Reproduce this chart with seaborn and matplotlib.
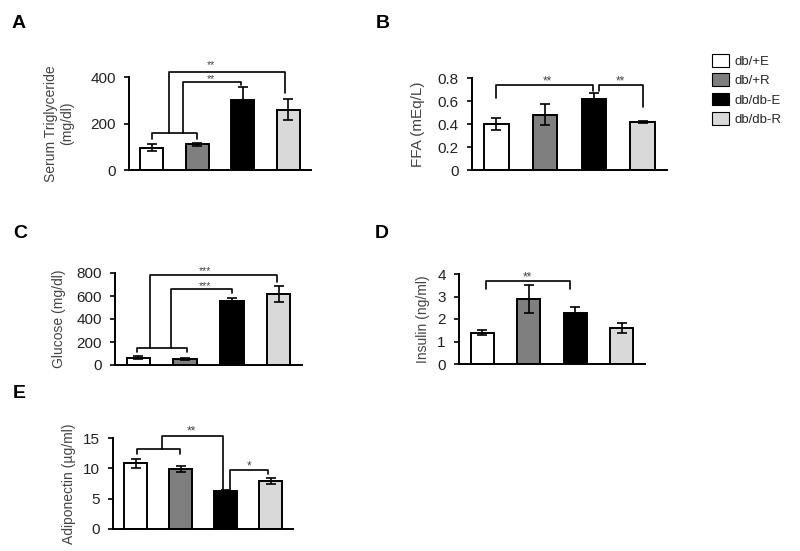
import matplotlib
matplotlib.use("Agg")
import matplotlib.pyplot as plt
import seaborn as sns
import pandas as pd
from matplotlib.patches import Patch

sns.set_theme(style="ticks")
plt.rcParams['font.family'] = ['Liberation Sans', 'DejaVu Sans']

groups = ["db/+E", "db/+R", "db/db-E", "db/db-R"]
colors = ["#ffffff", "#7f7f7f", "#000000", "#d9d9d9"]

tg_mean = [95, 110, 300, 260]
tg_err = [15, 6, 55, 45]
ffa_mean = [0.40, 0.48, 0.62, 0.42]
ffa_err = [0.05, 0.09, 0.05, 0.01]
glu_mean = [65, 55, 560, 620]
glu_err = [10, 8, 25, 70]
ins_mean = [1.40, 2.90, 2.25, 1.60]
ins_err = [0.12, 0.62, 0.30, 0.22]
adi_mean = [10.8, 9.9, 6.3, 7.9]
adi_err = [0.7, 0.5, 0.15, 0.5]

fig = plt.figure(figsize=(8, 5.51), dpi=100)
W, H = 800, 551

def add_ax(l, r, b, t):
    return fig.add_axes([l / W, 1 - b / H, (r - l) / W, (b - t) / H])

def draw(ax, mean, err, ylim, yticks, yticklabels, ylabel, lab_size=10):
    df = pd.DataFrame({"group": groups, "value": mean})
    sns.barplot(data=df, x="group", y="value", hue="group", palette=colors,
                order=groups, hue_order=groups, width=0.5, edgecolor="black",
                linewidth=1.4, errorbar=None, legend=False, ax=ax, dodge=False)
    ax.errorbar(range(len(groups)), mean, yerr=err, fmt="none", ecolor="black",
                elinewidth=1.2, capsize=3.5, capthick=1.2, zorder=5)
    ax.set_ylim(*ylim)
    ax.set_xlim(-0.5, 3.5)
    ax.set_yticks(yticks)
    ax.set_yticklabels(yticklabels, fontsize=11, color="#222222")
    ax.set_xticks([])
    ax.set_xlabel("")
    ax.set_ylabel(ylabel, fontsize=lab_size, color="#444444")
    for s in ["top", "right"]:
        ax.spines[s].set_visible(False)
    for s in ["left", "bottom"]:
        ax.spines[s].set_linewidth(1.4)
        ax.spines[s].set_color("black")
    ax.tick_params(axis="y", length=3.5, width=1.2, pad=6, color="black")
    ax.set_facecolor("white")

def line(ax, xs, ys):
    ax.plot(xs, ys, color="black", lw=1.2, clip_on=False, zorder=6)

def star(ax, x, y, s, size=8.5):
    ax.text(x, y, s, ha="center", va="center", fontsize=size, color="#444444")

# A
axA = add_ax(129, 311, 170, 77)
draw(axA, tg_mean, tg_err, (0, 400), [0, 200, 400], ["0", "200", "400"],
     "Serum Triglyceride\n(mg/dl)")
line(axA, [0, 0, 1, 1], [135, 160, 160, 135])
line(axA, [0.37, 0.37, 2.92, 2.92], [160, 421, 421, 331])
line(axA, [0.68, 0.68, 1.97, 1.97], [160, 378, 378, 366])
star(axA, 1.3, 450, "**", 7.5)
star(axA, 1.3, 389, "**", 7.5)
axA.yaxis.set_label_coords(-0.30, 0.5)

# B
axB = add_ax(472, 667, 170, 78)
draw(axB, ffa_mean, ffa_err, (0, 0.8), [0, 0.2, 0.4, 0.6, 0.8],
     ["0", "0.2", "0.4", "0.6", "0.8"], "FFA (mEq/L)", lab_size=11)
line(axB, [0, 0, 1.98, 1.98], [0.626, 0.739, 0.739, 0.685])
line(axB, [2.1, 2.1, 3.0, 3.0], [0.685, 0.739, 0.739, 0.548])
star(axB, 1.04, 0.77, "**")
star(axB, 2.54, 0.77, "**")
axB.yaxis.set_label_coords(-0.24, 0.5)

# C
axC = add_ax(115, 302, 365, 273)
draw(axC, glu_mean, glu_err, (0, 800), [0, 200, 400, 600, 800],
     ["0", "200", "400", "600", "800"], "Glucose (mg/dl)")
line(axC, [-0.04, -0.04, 1.03, 1.03], [116, 148, 148, 116])
line(axC, [0.25, 0.25, 2.97, 2.97], [148, 783, 783, 722])
line(axC, [0.70, 0.70, 2.0, 2.0], [148, 661, 661, 626])
star(axC, 1.43, 815, "***", 7.5)
star(axC, 1.43, 690, "***", 7.5)
axC.yaxis.set_label_coords(-0.26, 0.5)

# D
axD = add_ax(459, 645, 364, 274)
draw(axD, ins_mean, ins_err, (0, 4), [0, 1, 2, 3, 4],
     ["0", "1", "2", "3", "4"], "Insulin (ng/ml)")
line(axD, [0.08, 0.08, 1.88, 1.88], [3.33, 3.69, 3.69, 3.33])
star(axD, 0.96, 3.85, "**")
axD.yaxis.set_label_coords(-0.156, 0.5)

# E
axE = add_ax(113, 293, 529, 438)
draw(axE, adi_mean, adi_err, (0, 15), [0, 5, 10, 15],
     ["0", "5", "10", "15"], "Adiponectin (\u00b5g/ml)")
line(axE, [0.03, 0.03, 0.98, 0.98], [12.4, 13.2, 13.2, 12.4])
line(axE, [0.58, 0.58, 1.94, 1.94], [13.2, 15.3, 15.3, 6.6])
line(axE, [2.1, 2.1, 2.95, 2.95], [6.6, 9.7, 9.7, 9.1])
star(axE, 1.24, 16.0, "**")
star(axE, 2.52, 10.3, "*")
axE.yaxis.set_label_coords(-0.205, 0.5)

# Panel letters
for lab, (x, y) in {"A": (12, 23), "B": (376, 23), "C": (13, 233),
                    "D": (375, 233), "E": (13, 393)}.items():
    fig.text(x / W, 1 - y / H, lab, fontsize=14, fontweight="bold",
             ha="left", va="center", color="black")

# Legend
handles = [Patch(facecolor=c, edgecolor="black", linewidth=0.8, label=g)
           for g, c in zip(groups, colors)]
fig.legend(handles=handles, loc="upper left", bbox_to_anchor=(712 / W, 1 - 54 / H),
           frameon=False, fontsize=9.5, handlelength=1.3, handleheight=1.1,
           handletextpad=0.4, labelspacing=0.42, borderaxespad=0, borderpad=0)

fig.savefig("out.png", dpi=100, facecolor="white")
